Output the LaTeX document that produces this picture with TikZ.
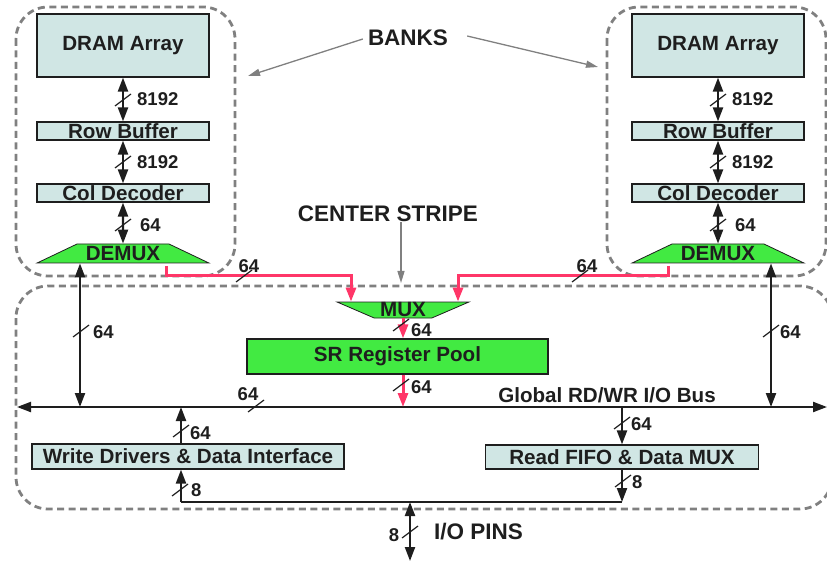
\documentclass[tikz,border=0pt]{standalone}
\usepackage{fontspec}
\setmainfont{Liberation Sans}
\usetikzlibrary{calc,arrows.meta,shapes.geometric}
\definecolor{ink}{RGB}{30,30,30}
\definecolor{boxc}{RGB}{208,230,228}
\definecolor{grn}{RGB}{66,234,66}
\definecolor{rd}{RGB}{255,54,104}
\definecolor{gr}{RGB}{128,128,128}
% черточка ширины шины
\newcommand{\bw}[1]{\draw[slsh] (#1) ++(-8,6) -- ++(16,-12);}

\begin{document}
\begin{tikzpicture}
      [x=1pt,y=-1pt
    % эти стили задают блоки и надписи
      ,box/.style={draw=ink,fill=boxc,line width=1.2pt,inner sep=0pt,minimum width=172,text=ink,font=\fontsize{20.6}{24}\selectfont\bfseries}
      ,trap/.style={trapezium,trapezium stretches=true,draw=ink,fill=grn,line width=.8pt,inner sep=0pt,text=ink,font=\fontsize{20.6}{24}\selectfont\bfseries}
      ,num/.style={text=ink,inner sep=0pt,font=\fontsize{18.5}{22}\selectfont\bfseries}
      ,big/.style={text=ink,inner sep=0pt,font=\fontsize{22.5}{26}\selectfont\bfseries}
      ,lbl/.style={text=ink,inner sep=0pt,font=\fontsize{20.6}{24}\selectfont\bfseries}
    % эти стили задают линии
      ,arr/.style={draw=ink,line width=2.2pt,-{Triangle[length=14pt,width=10pt]}}
      ,dblarr/.style={draw=ink,line width=2.2pt,{Triangle[length=14pt,width=10pt]}-{Triangle[length=14pt,width=10pt]}}
      ,redarr/.style={draw=rd,line width=3pt,-{Triangle[length=14pt,width=10pt]}}
      ,grarr/.style={draw=gr,line width=1.3pt,-{Triangle[length=12pt,width=7pt]}}
      ,zone/.style={draw=gr,line width=2.8pt,dash pattern=on 7pt off 4.5pt,rounded corners=32pt}
      ,slsh/.style={draw=ink,line width=1.2pt}
      ]
        \useasboundingbox (0,0) rectangle (827,561);

    % пунктирные области
        \draw[zone] (16,7) rectangle (235,276);
        \draw[zone] (607,7) rectangle (826,276);
        \draw[zone] (16,286) rectangle (832,509);

    % левый банк
        \node[box,minimum height=63] (dram1) at (123,45.5) {DRAM Array};
        \node[box,minimum height=18] (rowbuf1) at (123,131) {Row Buffer};
        \node[box,minimum height=18] (coldec1) at (123,193) {Col Decoder};
        \node[trap,trapezium angle=24,minimum width=172,minimum height=19] (demux1) at (123,253.5) {DEMUX};
        \draw[dblarr] (dram1) -- (rowbuf1);
        \draw[dblarr] (rowbuf1) -- (coldec1);
        \draw[dblarr] (coldec1) -- (demux1.north);
        \bw{123,100} \node[num,anchor=west] (n1) at (137,99) {8192};
        \bw{123,162} \node[num,anchor=west] (n2) at (137,162) {8192};
        \bw{123,225} \node[num,anchor=west] (n3) at (140,225) {64};

    % правый банк
        \node[box,minimum height=63] (dram2) at (718,45.5) {DRAM Array};
        \node[box,minimum height=18] (rowbuf2) at (718,131) {Row Buffer};
        \node[box,minimum height=18] (coldec2) at (718,193) {Col Decoder};
        \node[trap,trapezium angle=24,minimum width=172,minimum height=19] (demux2) at (718,253.5) {DEMUX};
        \draw[dblarr] (dram2) -- (rowbuf2);
        \draw[dblarr] (rowbuf2) -- (coldec2);
        \draw[dblarr] (coldec2) -- (demux2.north);
        \bw{718,100} \node[num,anchor=west] (n4) at (732,99) {8192};
        \bw{718,162} \node[num,anchor=west] (n5) at (732,162) {8192};
        \bw{718,225} \node[num,anchor=west] (n6) at (735,225) {64};

    % подписи
        \node[big] (banks) at (408,38) {BANKS};
        \coordinate (b1) at (248,76);
        \coordinate (b2) at (598,67);
        \draw[grarr] ($(banks.west)+(-5,1)$) -- (b1);
        \draw[grarr] ($(banks.east)+(19,-2)$) -- (b2);
        \node[big] (cs) at (388,214) {CENTER STRIPE};
        \coordinate (stripe) at (401,283);
        \draw[grarr] (cs.south -| stripe) -- (stripe);

    % центральная полоса
        \node[trap,trapezium angle=26,shape border rotate=180,minimum width=132,minimum height=16] (mux) at (403,310) {MUX};
        \node[box,fill=grn,minimum width=301,minimum height=35] (srpool) at (397.5,356.5) {SR Register Pool};
        \coordinate (r1) at (166,266);
        \coordinate (rl) at (351,276);
        \coordinate (r2) at (668,266);
        \coordinate (rr) at (458,276);
        \draw[redarr] (r1) |- (rl) -- (rl |- mux.north);
        \draw[redarr] (r2) |- (rr) -- (rr |- mux.north);
        \bw{244,276} \node[num] (n7) at (249,266) {64};
        \bw{580,276} \node[num] (n8) at (587,266) {64};

    % шина
        \coordinate (busL) at (17,407);
        \coordinate (busR) at (827,407);
        \coordinate (tapL) at (80,407);
        \coordinate (tapR) at (771,407);
        \draw[dblarr] (busL) -- (busR);
        \node[lbl] (bus) at (607,395) {Global RD/WR I/O Bus};
        \bw{256,406} \node[num] (n9) at (248,394) {64};
        \draw[redarr] (mux.south) -- (mux.south |- srpool.north);
        \draw[redarr] (mux.south |- srpool.south) -- (mux.south |- busL);
        \bw{401,325} \node[num,anchor=west] (n10) at (411,330) {64};
        \bw{401,385} \node[num,anchor=west] (n11) at (411,387) {64};
        \draw[dblarr] (tapL |- demux1.south) -- (tapL);
        \draw[dblarr] (tapR |- demux2.south) -- (tapR);
        \bw{81,331} \node[num,anchor=west] (n12) at (93,332) {64};
        \bw{771,331} \node[num,anchor=west] (n13) at (780,332) {64};

    % ввод-вывод
        \node[box,minimum width=312,minimum height=25] (wrdrv) at (188,456.5) {Write Drivers \& Data Interface};
        \node[box,minimum width=273,minimum height=24] (rdfifo) at (622,457) {Read FIFO \& Data MUX};
        \coordinate (wtap) at (181,407);
        \coordinate (pin) at (410,502);
        \coordinate (pinout) at (410,561);
        \draw[arr] (wtap |- wrdrv.north) -- (wtap);
        \draw[arr] (rdfifo.north |- busL) -- (rdfifo.north);
        \draw[line width=2.2pt,draw=ink] (wtap |- pin) -- (rdfifo.south |- pin);
        \draw[arr] (wtap |- pin) -- (wtap |- wrdrv.south);
        \draw[arr] (rdfifo.south) -- (rdfifo.south |- pin);
        \draw[dblarr] (pin) -- (pinout);
        \bw{181,431} \node[num,anchor=west] (n14) at (190,433) {64};
        \bw{180,490} \node[num,anchor=west] (n15) at (191,490) {8};
        \bw{622,423} \node[num,anchor=west] (n16) at (631,424) {64};
        \bw{623,481} \node[num,anchor=west] (n17) at (632,482) {8};
        \bw{410,532} \node[num] (n18) at (394,535) {8};
        \node[big,anchor=west] (pins) at (434,532) {I/O PINS};
       \end{tikzpicture}
\end{document}
